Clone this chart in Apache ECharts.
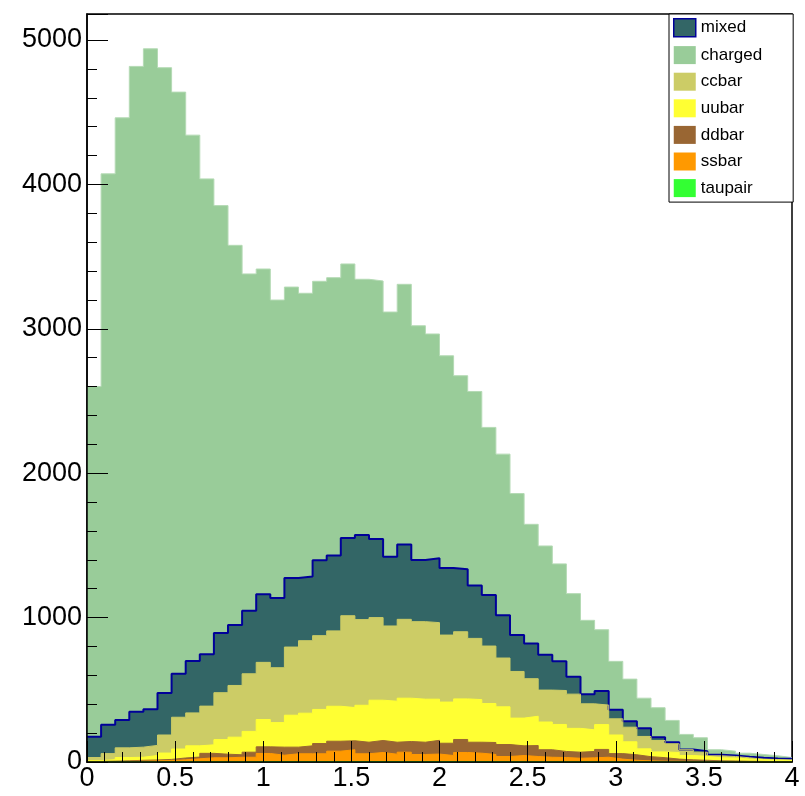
<!DOCTYPE html>
<html><head><meta charset="utf-8">
<script src="https://cdn.jsdelivr.net/npm/echarts@6/dist/echarts.min.js"></script>
<style>html,body{margin:0;padding:0;background:#fff}#c{width:805px;height:796px}</style>
</head><body><div id="c"></div>
<script>
// Histogram binning
const xMin = 0;
const xMax = 4;
const binWidth = 0.08; // 50 bins

// Per-process bin contents
const charged = [2425,3815,4171,4469,4573,4331,4028,3642,3291,2960,2630,2332,2253,2063,2015,1962,1931,1924,1898,1771,1786,1694,1802,1622,1553,1469,1340,1344,1160,1116,980,825,753,675,576,511,425,335,291,208,204,151,104,93,35,30,25,23,19,9];
const mixed   = [144,200,192,245,251,290,301,359,360,413,418,437,471,483,478,444,523,522,538,586,545,480,518,427,446,465,433,366,354,296,252,244,245,202,120,67,97,63,42,57,23,11,2,7,7,7,7,9,7,7];
const ccbar   = [21,42,67,70,70,125,220,228,268,325,358,399,396,380,472,502,511,522,636,593,572,521,546,537,530,464,465,424,398,338,323,260,221,235,237,180,135,112,101,86,79,60,40,29,14,10,9,4,4,5];
const uubar   = [6,10,23,21,31,44,62,78,59,101,122,144,189,170,221,226,236,242,230,256,279,284,300,298,285,285,281,295,270,261,192,203,192,187,165,150,172,129,90,54,40,46,30,27,21,21,15,12,10,8];
const ddbar   = [2,3,4,6,6,8,13,12,31,25,17,35,46,56,46,55,71,69,62,80,83,83,74,85,95,85,90,76,83,83,67,76,52,42,42,44,54,38,38,29,24,15,11,9,6,5,4,3,2,1];
const ssbar   = [2,2,3,5,7,9,13,20,27,27,31,31,56,44,54,54,54,72,82,54,63,51,65,49,52,42,63,58,49,36,43,36,31,29,24,27,31,18,11,7,5,4,3,2,1,2,1,1,1,1];
const taupair = [0,1,1,1,1,1,2,2,2,2,2,2,3,3,3,3,3,3,3,3,3,3,3,3,3,3,3,3,3,2,2,2,2,2,2,2,2,2,1,1,1,1,1,1,1,0,0,0,0,0];

// Axis ticks
const yMax = 5180;
const yMajor = 1000;
const yMinor = 200;
const xMajor = 0.5;

const legendOrder = ['mixed','charged','ccbar','uubar','ddbar','ssbar','taupair'];
// stacking order bottom -> top
const layers = [
  {name:'taupair', data:taupair, color:'#33ff33'},
  {name:'ssbar',   data:ssbar,   color:'#ff9900'},
  {name:'ddbar',   data:ddbar,   color:'#996633'},
  {name:'uubar',   data:uubar,   color:'#ffff33'},
  {name:'ccbar',   data:ccbar,   color:'#cccc66'},
  {name:'mixed',   data:mixed,   color:'#336666', line:'#000099', lw:2},
  {name:'charged', data:charged, color:'#99cc99', line:'#b4dab4', lw:1}
];

// cumulative sums (THStack-style): each layer drawn as sum of itself and everything below
let running = new Array(charged.length).fill(0);
layers.forEach(l=>{
  running = running.map((s,i)=>s + l.data[i]);
  l.cum = running.slice();
});

function stepPoints(vals){
  const pts = vals.map((v,i)=>[xMin + i*binWidth, v]);
  pts.push([xMax, vals[vals.length-1]]);
  return pts;
}

const font = 'Liberation Sans, Arial, Helvetica, sans-serif';
const chart = echarts.init(document.getElementById('c'), null, {renderer:'canvas'});
const colorOf = {};
layers.forEach(l=>colorOf[l.name]=l);

// draw from top of stack downwards so lower layers overlay
const drawOrder = layers.slice().reverse();

chart.setOption({
  animation:false,
  backgroundColor:'#fff',
  grid:{left:87, right:13, top:14, bottom:34, show:true, borderColor:'#000', borderWidth:1.5, backgroundColor:'transparent'},
  legend:{
    orient:'vertical', left:669, top:14, icon:'rect',
    itemWidth:22, itemHeight:18, itemGap:8.6,
    padding:[4,31,5,4],
    borderColor:'#000', borderWidth:1, backgroundColor:'#fff',
    textStyle:{fontFamily:font, fontSize:17, color:'#000'},
    selectedMode:false,
    data: legendOrder.map(n=>({
      name:n,
      itemStyle: n==='mixed'
        ? {color:colorOf[n].color, borderColor:'#000099', borderWidth:1.5}
        : {color:colorOf[n].color, borderWidth:0}
    }))
  },
  xAxis:{
    type:'value', min:xMin, max:xMax, interval:xMajor, z:10,
    axisLine:{show:true, onZero:false, lineStyle:{color:'#000', width:1.5}},
    axisTick:{show:true, inside:true, length:21, lineStyle:{color:'#000', width:1}},
    minorTick:{show:true, splitNumber:5, length:10, lineStyle:{color:'#000', width:1}},
    axisLabel:{fontFamily:font, fontSize:27, color:'#000', margin:3, showMinLabel:true, showMaxLabel:true},
    splitLine:{show:false}
  },
  yAxis:[
    {
      type:'value', min:0, max:yMax, interval:yMajor, z:10,
      axisLine:{show:true, lineStyle:{color:'#000', width:1.5}},
      axisTick:{show:true, inside:true, length:21, lineStyle:{color:'#000', width:1}},
      axisLabel:{fontFamily:font, fontSize:27, color:'#000', margin:5,
        formatter:v=> (v % yMajor === 0) ? String(v) : ''},
      splitLine:{show:false}
    },
    {
      type:'value', min:0, max:yMax, interval:yMinor, position:'left', z:10,
      axisLine:{show:false},
      axisTick:{show:true, inside:true, length:10, lineStyle:{color:'#000', width:1}},
      axisLabel:{show:false},
      splitLine:{show:false}
    }
  ],
  series: drawOrder.map(l=>({
    type:'line', name:l.name, step:'end',
    symbol:'none', showSymbol:false, silent:true,
    yAxisIndex:0,
    data: stepPoints(l.cum),
    itemStyle:{color:l.color},
    lineStyle:{color:l.line || l.color, width:l.lw || 1},
    areaStyle:{color:l.color, opacity:1, origin:'start'},
    emphasis:{disabled:true}
  }))
});
</script>
</body></html>
